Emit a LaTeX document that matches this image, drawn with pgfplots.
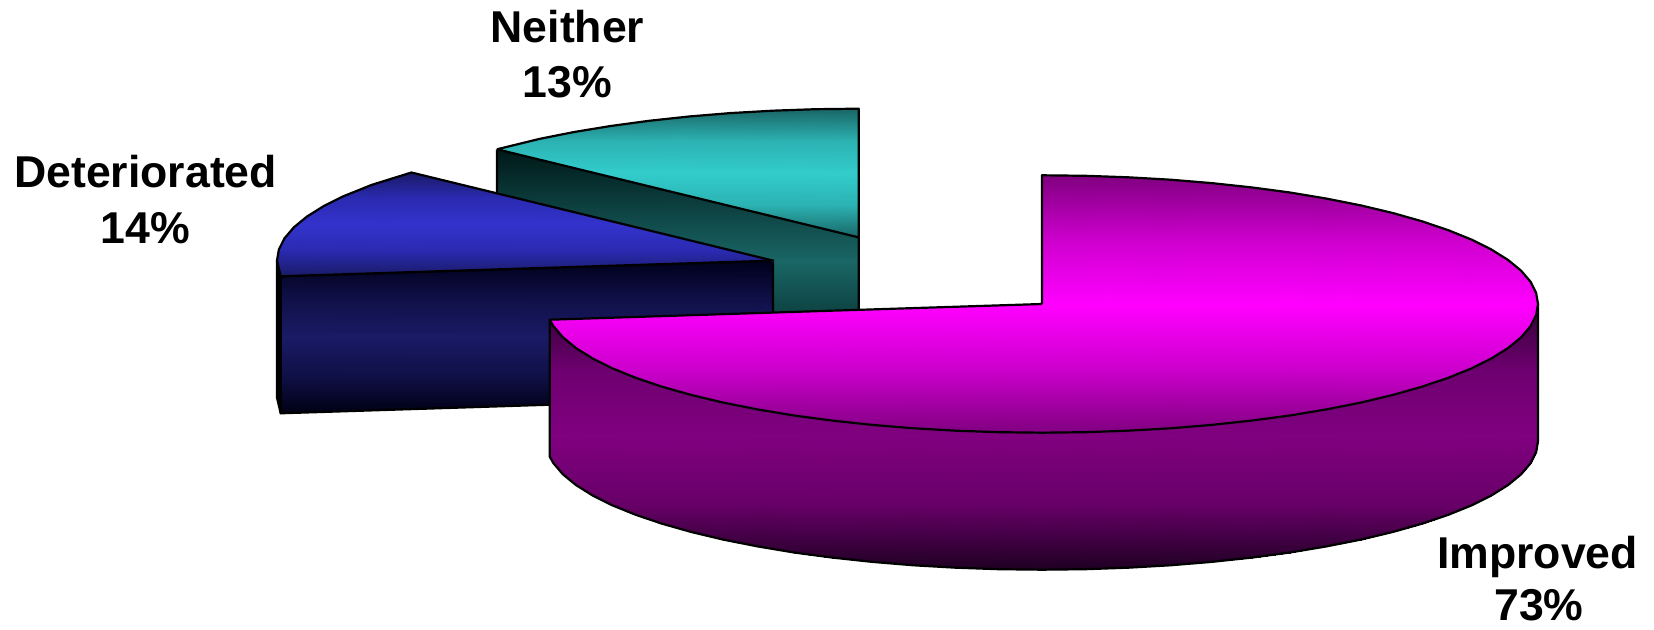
\documentclass[border=0pt]{standalone}
\usepackage{pgfplots}
\pgfplotsset{compat=1.18}
\usepackage{fontspec}
\setmainfont{Liberation Sans}
\pgfplotsset{
 colormap={mtop}{rgb255=(128,0,128) rgb255=(205,0,205) rgb255=(255,0,255) rgb255=(205,0,205) rgb255=(128,0,128)},
 colormap={mside}{rgb255=(48,0,52) rgb255=(110,0,112) rgb255=(128,0,128) rgb255=(104,0,104) rgb255=(30,0,34)},
 colormap={btop}{rgb255=(26,26,102) rgb255=(42,42,178) rgb255=(51,51,204) rgb255=(42,42,178) rgb255=(26,26,102)},
 colormap={bside}{rgb255=(0,0,28) rgb255=(16,16,72) rgb255=(26,26,102) rgb255=(16,16,72) rgb255=(0,0,20)},
 colormap={ttop}{rgb255=(26,102,102) rgb255=(44,178,178) rgb255=(51,204,204) rgb255=(44,178,178) rgb255=(26,102,102)},
 colormap={tside}{rgb255=(0,24,24) rgb255=(26,102,102) rgb255=(0,24,24)},
}
\tikzset{lab/.style={anchor=base,inner sep=0pt,font=\fontsize{22.3}{26}\selectfont\bfseries}}
\pgfplotsset{
 face/.style={surf, shader=interp, forget plot, point meta=y, point meta rel=per plot, mesh/ordering=x varies},
 edge/.style={draw=black, line width=1.1pt, line join=round, forget plot, mark=none},
}
\begin{document}
\begin{tikzpicture}[x=1pt,y=1pt]
\begin{axis}[
  scale only axis, width=827pt, height=315pt,
  xmin=0, xmax=1654, ymin=0, ymax=630, y dir=reverse,
  hide axis, clip=false,
]
\path (axis cs:0,0) rectangle (axis cs:1654,630);
% Neither: side
\addplot[face, colormap name=tside, mesh/cols=2, mesh/rows=2, point meta min=149.3, point meta max=374] coordinates {
 (497,149.3) (858.7,237.4)
 (497,286) (858.7,374)};
\addplot[edge] coordinates {(497,149.3) (497,286) (858.7,374) (858.7,237.4)};
% Neither: top
\addplot[face, colormap name=ttop, mesh/cols=10, mesh/rows=2, point meta min=108.7, point meta max=237.4] coordinates {
 (497,149.3) (539.9,138.8) (574.2,132) (610.7,126) (649.1,120.8) (689,116.5) (730.3,113.1) (772.6,110.7) (815.5,109.2) (858.7,108.7)
 (497,149.3) (539.9,159.8) (574.2,168.1) (610.7,177) (649.1,186.4) (689,196.1) (730.3,206.1) (772.6,216.4) (815.5,226.9) (858.7,237.4)};
\addplot[edge] coordinates {(497,149.3) (539.9,138.8) (574.2,132) (610.7,126) (649.1,120.8) (689,116.5) (730.3,113.1) (772.6,110.7) (815.5,109.2) (858.7,108.7) (858.7,237.4) (497,149.3)};
% Deteriorated: side sliver and front
\addplot[edge, fill=black] coordinates {(277,260.6) (277,397.6) (280.7,413.3) (280.7,276.3) (277,260.6)};
\addplot[face, colormap name=bside, mesh/cols=2, mesh/rows=2, point meta min=260.6, point meta max=413.3] coordinates {
 (280.7,276.3) (773,260.6)
 (280.7,413.3) (773,397.6)};
\addplot[edge] coordinates {(280.7,276.3) (773,260.6) (773,397.6) (280.7,413.3) (280.7,276.3)};
% Deteriorated: top
\addplot[face, colormap name=btop, mesh/cols=10, mesh/rows=2, point meta min=172.5, point meta max=276.3] coordinates {
 (277,260.6) (278.9,249.4) (284.5,238.3) (293.9,227.3) (306.9,216.6) (323.5,206.2) (343.5,196.2) (371.7,184.9) (411.4,172.5) (773,260.6)
 (280.7,276.3) (284.5,276.2) (294,275.9) (306.9,275.5) (323.5,274.9) (343.5,274.3) (371.7,273.4) (411.4,272.1) (500,269.3) (773,260.6)};
\addplot[edge] coordinates {(280.7,276.3) (277,260.6) (278.9,249.4) (284.5,238.3) (293.9,227.3) (306.9,216.6) (323.5,206.2) (343.5,196.2) (371.7,184.9) (411.4,172.5) (773,260.6) (280.7,276.3)};
% Improved: side
\addplot[face, colormap name=mside, mesh/cols=36, mesh/rows=2, point meta min=304, point meta max=569.7] coordinates {
 (549.7,319.7) (553.5,326.3) (562.9,337.3) (575.9,348) (592.5,358.4) (612.5,368.4) (635.7,377.8) (662,386.7) (691.3,395) (723.2,402.6) (757.5,409.4) (794,415.5) (832.4,420.6) (872.4,424.9) (913.6,428.3) (955.9,430.7) (998.7,432.2) (1042,432.7) (1085.3,432.2) (1128.1,430.7) (1170.4,428.3) (1211.6,424.9) (1251.6,420.6) (1290,415.5) (1326.5,409.4) (1360.8,402.6) (1392.7,395) (1422,386.7) (1448.3,377.8) (1471.5,368.4) (1491.5,358.4) (1508.1,348) (1521.1,337.3) (1530.5,326.3) (1536.1,315.2) (1538,304)
 (549.7,456.7) (553.5,463.3) (562.9,474.3) (575.9,485) (592.5,495.4) (612.5,505.4) (635.7,514.8) (662,523.7) (691.3,532) (723.2,539.6) (757.5,546.4) (794,552.5) (832.4,557.6) (872.4,561.9) (913.6,565.3) (955.9,567.7) (998.7,569.2) (1042,569.7) (1085.3,569.2) (1128.1,567.7) (1170.4,565.3) (1211.6,561.9) (1251.6,557.6) (1290,552.5) (1326.5,546.4) (1360.8,539.6) (1392.7,532) (1422,523.7) (1448.3,514.8) (1471.5,505.4) (1491.5,495.4) (1508.1,485) (1521.1,474.3) (1530.5,463.3) (1536.1,452.2) (1538,441)};
\addplot[edge] coordinates {(549.7,319.7) (549.7,456.7) (553.5,463.3) (562.9,474.3) (575.9,485) (592.5,495.4) (612.5,505.4) (635.7,514.8) (662,523.7) (691.3,532) (723.2,539.6) (757.5,546.4) (794,552.5) (832.4,557.6) (872.4,561.9) (913.6,565.3) (955.9,567.7) (998.7,569.2) (1042,569.7) (1085.3,569.2) (1128.1,567.7) (1170.4,565.3) (1211.6,561.9) (1251.6,557.6) (1290,552.5) (1326.5,546.4) (1360.8,539.6) (1392.7,532) (1422,523.7) (1448.3,514.8) (1471.5,505.4) (1491.5,495.4) (1508.1,485) (1521.1,474.3) (1530.5,463.3) (1536.1,452.2) (1538,441) (1538,304)};
% Improved: top
\addplot[face, colormap name=mtop, mesh/cols=37, mesh/rows=2, point meta min=175.3, point meta max=432.7] coordinates {
 (549.7,319.7) (553.5,319.6) (562.9,319.3) (575.9,318.9) (592.5,318.3) (612.5,317.7) (635.7,317) (662,316.1) (691.3,315.2) (723.2,314.2) (757.5,313.1) (794,311.9) (832.4,310.7) (872.4,309.4) (913.6,308.1) (955.9,306.7) (998.7,305.4) (1042,304) (1042,175.3) (1085.3,175.8) (1128.1,177.3) (1170.4,179.7) (1211.6,183.1) (1251.6,187.4) (1290,192.5) (1326.5,198.6) (1360.8,205.4) (1392.7,213) (1422,221.3) (1448.3,230.2) (1471.5,239.6) (1491.5,249.6) (1508.1,260) (1521.1,270.7) (1530.5,281.7) (1536.1,292.8) (1538,304)
 (549.7,319.7) (553.5,326.3) (562.9,337.3) (575.9,348) (592.5,358.4) (612.5,368.4) (635.7,377.8) (662,386.7) (691.3,395) (723.2,402.6) (757.5,409.4) (794,415.5) (832.4,420.6) (872.4,424.9) (913.6,428.3) (955.9,430.7) (998.7,432.2) (1042,432.7) (1042,432.7) (1085.3,432.2) (1128.1,430.7) (1170.4,428.3) (1211.6,424.9) (1251.6,420.6) (1290,415.5) (1326.5,409.4) (1360.8,402.6) (1392.7,395) (1422,386.7) (1448.3,377.8) (1471.5,368.4) (1491.5,358.4) (1508.1,348) (1521.1,337.3) (1530.5,326.3) (1536.1,315.2) (1538,304)};
\addplot[edge] coordinates {(1042,304) (1042,175.3) (1085.3,175.8) (1128.1,177.3) (1170.4,179.7) (1211.6,183.1) (1251.6,187.4) (1290,192.5) (1326.5,198.6) (1360.8,205.4) (1392.7,213) (1422,221.3) (1448.3,230.2) (1471.5,239.6) (1491.5,249.6) (1508.1,260) (1521.1,270.7) (1530.5,281.7) (1536.1,292.8) (1538,304) (1536.1,315.2) (1530.5,326.3) (1521.1,337.3) (1508.1,348) (1491.5,358.4) (1471.5,368.4) (1448.3,377.8) (1422,386.7) (1392.7,395) (1360.8,402.6) (1326.5,409.4) (1290,415.5) (1251.6,420.6) (1211.6,424.9) (1170.4,428.3) (1128.1,430.7) (1085.3,432.2) (1042,432.7) (998.7,432.2) (955.9,430.7) (913.6,428.3) (872.4,424.9) (832.4,420.6) (794,415.5) (757.5,409.4) (723.2,402.6) (691.3,395) (662,386.7) (635.7,377.8) (612.5,368.4) (592.5,358.4) (575.9,348) (562.9,337.3) (553.5,326.3) (549.7,319.7) (1042,304)};
\node[lab] at (axis cs:567.5,43) {Neither};
\node[lab] at (axis cs:567.5,98) {13\%};
\node[lab] at (axis cs:145.6,188) {Deteriorated};
\node[lab] at (axis cs:145.6,244) {14\%};
\node[lab] at (axis cs:1537.6,568) {Improved};
\node[lab] at (axis cs:1539,620.5) {73\%};
\end{axis}
\end{tikzpicture}
\end{document}
